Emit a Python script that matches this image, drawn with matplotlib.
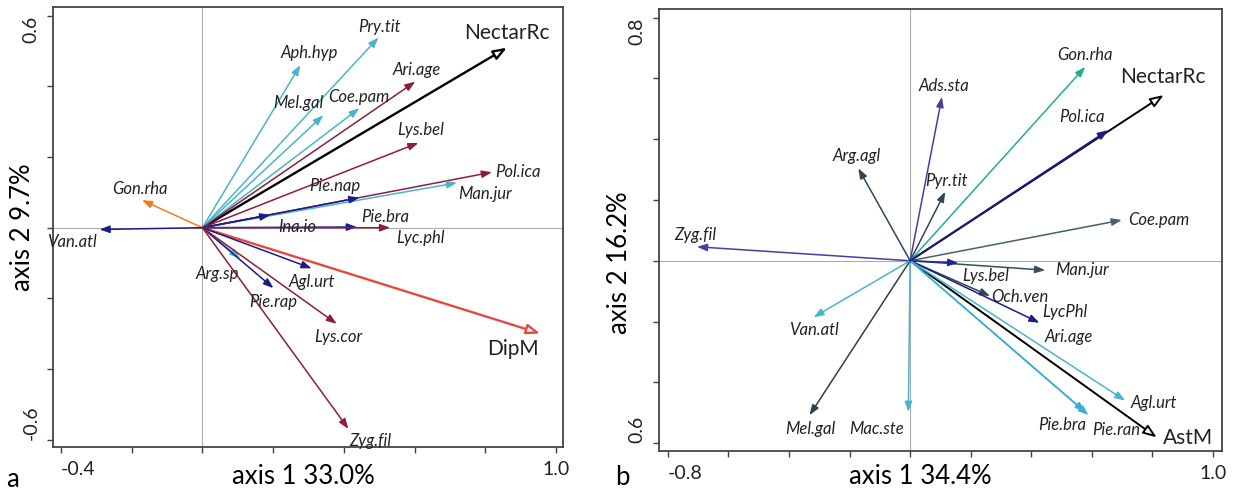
import matplotlib
matplotlib.use("Agg")
import matplotlib.pyplot as plt

plt.rcParams["font.family"] = ["Lato", "DejaVu Sans"]

# colours used in the two biplots
CYAN = "#4ab4cc"
MAROON = "#8c1d42"
NAVY = "#1c1c86"
ORANGE = "#ee7d22"
RED = "#e8473f"
SLATE = "#2f4654"
PURPLE = "#4a3ca6"
GREEN = "#22ae8e"

# ---- panel a: species arrows (tip x, tip y) and label positions ----
a_names = ["Pry.tit", "Aph.hyp", "Mel.gal", "Coe.pam", "Ari.age", "Lys.bel",
           "Pol.ica", "Man.jur", "Pie.nap", "Ina.io", "Pie.bra", "Lyc.phl",
           "Gon.rha", "Van.atl", "Arg.sp", "Agl.urt", "Pie.rap", "Lys.cor",
           "Zyg.fil"]
a_x = [0.498, 0.277, 0.342, 0.444, 0.602, 0.611, 0.819, 0.720, 0.444, 0.192,
       0.437, 0.531, -0.171, -0.291, 0.107, 0.309, 0.201, 0.380, 0.413]
a_y = [0.538, 0.460, 0.318, 0.338, 0.413, 0.240, 0.157, 0.127, 0.085, 0.036,
       0.002, 0.000, 0.078, -0.005, -0.087, -0.115, -0.171, -0.272, -0.569]
a_colors = [CYAN, CYAN, CYAN, CYAN, MAROON, MAROON, MAROON, CYAN, NAVY, NAVY,
            NAVY, MAROON, ORANGE, NAVY, CYAN, NAVY, NAVY, MAROON, MAROON]
a_lab_x = [0.500, 0.302, 0.271, 0.441, 0.607, 0.616, 0.828, 0.800, 0.375, 0.267,
           0.517, 0.616, -0.176, -0.369, 0.041, 0.309, 0.201, 0.385, 0.474]
a_lab_y = [0.567, 0.494, 0.353, 0.370, 0.446, 0.276, 0.157, 0.095, 0.118, 0.003,
           0.031, -0.029, 0.109, -0.041, -0.131, -0.153, -0.209, -0.310, -0.602]
a_left = ["Pol.ica"]

# environmental vectors panel a
a_env = ["NectarRc", "DipM"]
a_env_x = [0.861, 0.955]
a_env_y = [0.509, -0.299]
a_env_col = ["black", RED]
a_env_lab_x = [0.861, 0.879]
a_env_lab_y = [0.551, -0.344]

# ---- panel b ----
b_names = ["Ads.sta", "Pyr.tit", "Arg.agl", "Gon.rha", "Coe.pam", "Zyg.fil",
           "Man.jur", "Lys.bel", "Och.ven", "LycPhl", "Ari.age", "Agl.urt",
           "Pie.bra", "Pie.ran", "Mac.ste", "Mel.gal", "Van.atl", "Pol.ica"]
b_x = [0.105, 0.116, -0.171, 0.578, 0.699, -0.704, 0.446, 0.159, 0.264, 0.427,
       None, 0.710, 0.578, 0.589, -0.006, -0.332, -0.319, 0.655]
b_y = [0.539, 0.227, 0.304, 0.638, 0.134, 0.046, -0.031, -0.007, -0.116, -0.204,
       None, -0.460, -0.497, -0.508, -0.497, -0.508, -0.186, 0.430]
b_colors = [PURPLE, SLATE, SLATE, GREEN, "#45606e", PURPLE, "#33505c", "#2424a0",
            SLATE, NAVY, SLATE, CYAN, "#3aaed0", "#3aaed0", CYAN, "#2e3f4a", CYAN,
            NAVY]
b_lab_x = [0.110, 0.121, -0.176, 0.578, 0.721, -0.710, 0.479, 0.248, 0.363,
           0.512, 0.523, 0.803, 0.501, 0.682, -0.110, -0.330, -0.319, 0.567]
b_lab_y = [0.575, 0.263, 0.344, 0.677, 0.134, 0.085, -0.031, -0.050, -0.118,
           -0.170, -0.250, -0.469, -0.540, -0.557, -0.554, -0.554, -0.228, 0.474]
b_left = ["Coe.pam", "Man.jur"]

b_env = ["NectarRc", "AstM"]
b_env_x = [0.837, 0.814]
b_env_y = [0.545, -0.581]
b_env_col = ["black", "black"]
b_env_lab_x = [0.835, 0.919]
b_env_lab_y = [0.604, -0.584]


def arrow(ax, x, y, col, lw=1.1, open_head=False):
    if open_head:
        style = "-|>,head_length=0.8,head_width=0.3"
        fc = "white"
    else:
        style = "-|>,head_length=0.6,head_width=0.22"
        fc = col
    ax.annotate("", xy=(x, y), xytext=(0, 0),
                arrowprops=dict(arrowstyle=style, ec=col, fc=fc, lw=lw,
                                shrinkA=0, shrinkB=0))


def style_axes(ax, xlim, ylim, xticks, yticks, xlabels, ylabels):
    ax.set_xlim(xlim)
    ax.set_ylim(ylim)
    ax.axhline(0, color="#aaaaaa", lw=0.8, zorder=0)
    ax.axvline(0, color="#aaaaaa", lw=0.8, zorder=0)
    for s in ax.spines.values():
        s.set_color("#444444")
        s.set_linewidth(1.3)
    ax.set_xticks(xticks)
    ax.set_xticklabels(xlabels, fontsize=14, color="#222222")
    ax.set_yticks(yticks)
    ax.set_yticklabels(ylabels, fontsize=14, color="#222222", rotation=90)
    ax.tick_params(direction="out", length=4, width=1, color="#444444", pad=6)
    xt = ax.get_xticklabels()
    xt[0].set_ha("left")
    yt = ax.get_yticklabels()
    yt[0].set_va("bottom")
    yt[-1].set_va("top")


fig = plt.figure(figsize=(12.38, 4.92), dpi=100)

# panel a
ax1 = fig.add_axes([0.0431, 0.0909, 0.412, 0.894])
xt1 = [-0.4, -0.2, 0.0, 0.2, 0.4, 0.6, 0.8, 1.0]
yt1 = [-0.6, -0.4, -0.2, 0.0, 0.2, 0.4, 0.6]
style_axes(ax1, (-0.4215, 1.021), (-0.621, 0.623), xt1, yt1,
           ["-0.4", "", "", "", "", "", "", "1.0"],
           ["-0.6", "", "", "", "", "", "0.6"])

for n, x, y, c in zip(a_env, a_env_x, a_env_y, a_env_col):
    arrow(ax1, x, y, c, lw=1.7, open_head=True)
for n, x, y, c in zip(a_names, a_x, a_y, a_colors):
    arrow(ax1, x, y, c)
for n, x, y in zip(a_names, a_lab_x, a_lab_y):
    ax1.text(x, y, n, fontsize=12, style="italic", color="#222222",
             ha="left" if n in a_left else "center", va="center")
for n, x, y in zip(a_env, a_env_lab_x, a_env_lab_y):
    ax1.text(x, y, n, fontsize=15, color="#222222", ha="center", va="center")

# panel b
ax2 = fig.add_axes([0.5326, 0.0839, 0.4543, 0.897])
xt2 = [-0.8, -0.6, -0.4, -0.2, 0.0, 0.2, 0.4, 0.6, 0.8, 1.0]
yt2 = [-0.6, -0.4, -0.2, 0.0, 0.2, 0.4, 0.6, 0.8]
style_axes(ax2, (-0.828, 1.029), (-0.625, 0.827), xt2, yt2,
           ["-0.8", "", "", "", "", "", "", "", "", "1.0"],
           ["0.6", "", "", "", "", "", "", "0.8"])

for n, x, y, c in zip(b_env, b_env_x, b_env_y, b_env_col):
    arrow(ax2, x, y, c, lw=1.4, open_head=True)
for n, x, y, c in zip(b_names, b_x, b_y, b_colors):
    if x is not None:
        arrow(ax2, x, y, c, lw=1.4 if n == "Pol.ica" else 1.1)
for n, x, y in zip(b_names, b_lab_x, b_lab_y):
    ax2.text(x, y, n, fontsize=12, style="italic", color="#222222",
             ha="left" if n in b_left else "center", va="center")
for n, x, y in zip(b_env, b_env_lab_x, b_env_lab_y):
    ax2.text(x, y, n, fontsize=15, color="#222222", ha="center", va="center")

# axis titles and panel letters
fig.text(0.2448, 0.0305, "axis 1 33.0%", fontsize=18.5, ha="center", va="center")
fig.text(0.0178, 0.5386, "axis 2 9.7%", fontsize=18.5, ha="center", va="center",
         rotation=90)
fig.text(0.0097, 0.0244, "a", fontsize=18.5, ha="center", va="center")
fig.text(0.743, 0.0305, "axis 1 34.4%", fontsize=18.5, ha="center", va="center")
fig.text(0.5008, 0.467, "axis 2 16.2%", fontsize=18.5, ha="center", va="center",
         rotation=90)
fig.text(0.5024, 0.0285, "b", fontsize=18.5, ha="center", va="center")

fig.savefig("out.png", dpi=100)
